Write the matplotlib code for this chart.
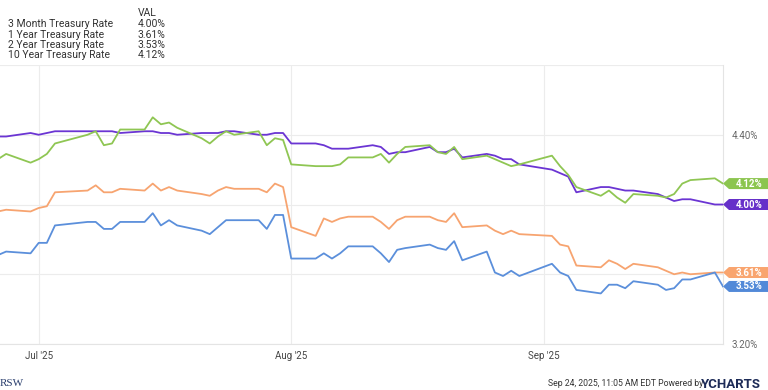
import matplotlib
matplotlib.use("Agg")
import matplotlib.pyplot as plt
import matplotlib.dates as mdates
import matplotlib.transforms as mtransforms
from matplotlib.patches import Polygon
import pandas as pd

# business days shown on the chart
dates = pd.bdate_range("2025-06-26", "2025-09-23", freq="C",
                       holidays=["2025-07-04", "2025-09-01"])

three_month = [4.39, 4.39, 4.41,
               4.40, 4.41, 4.42, 4.42, 4.42, 4.42, 4.42, 4.41, 4.42, 4.42, 4.41, 4.41, 4.40,
               4.41, 4.41, 4.41, 4.42, 4.42, 4.40, 4.40, 4.41, 4.41,
               4.35, 4.35, 4.34, 4.32, 4.32, 4.32, 4.34, 4.33, 4.29, 4.30, 4.30, 4.33, 4.30,
               4.30, 4.32, 4.27, 4.29, 4.28, 4.26, 4.26, 4.23,
               4.20, 4.18, 4.16, 4.07, 4.10, 4.10, 4.09, 4.08, 4.08, 4.06, 4.04, 4.02, 4.03,
               4.03, 4.00, 4.00]
one_year = [3.96, 3.97, 3.96,
            3.98, 3.99, 4.07, 4.08, 4.11, 4.07, 4.07, 4.09, 4.08, 4.12, 4.08, 4.10, 4.08,
            4.06, 4.05, 4.08, 4.10, 4.09, 4.09, 4.07, 4.12, 4.10,
            3.87, 3.82, 3.92, 3.90, 3.92, 3.93, 3.93, 3.90, 3.86, 3.91, 3.93, 3.93, 3.91,
            3.90, 3.95, 3.87, 3.88, 3.85, 3.83, 3.85, 3.83,
            3.82, 3.77, 3.76, 3.65, 3.64, 3.68, 3.66, 3.63, 3.66, 3.64, 3.62, 3.60, 3.61,
            3.60, 3.61, 3.61]
two_year = [3.71, 3.73, 3.72,
            3.78, 3.78, 3.88, 3.90, 3.90, 3.86, 3.86, 3.90, 3.90, 3.95, 3.88, 3.91, 3.88,
            3.85, 3.83, 3.87, 3.91, 3.91, 3.91, 3.86, 3.94, 3.94,
            3.69, 3.69, 3.72, 3.69, 3.72, 3.76, 3.76, 3.72, 3.67, 3.74, 3.75, 3.77, 3.75,
            3.74, 3.79, 3.68, 3.73, 3.61, 3.59, 3.62, 3.59,
            3.66, 3.61, 3.59, 3.51, 3.49, 3.54, 3.54, 3.52, 3.56, 3.54, 3.51, 3.52, 3.57,
            3.57, 3.61, 3.53]
ten_year = [4.26, 4.29, 4.24,
            4.26, 4.29, 4.35, 4.40, 4.42, 4.34, 4.35, 4.43, 4.43, 4.50, 4.46, 4.47, 4.44,
            4.38, 4.35, 4.39, 4.42, 4.40, 4.42, 4.34, 4.38, 4.37,
            4.23, 4.22, 4.22, 4.22, 4.23, 4.27, 4.27, 4.29, 4.24, 4.29, 4.33, 4.34, 4.30,
            4.29, 4.33, 4.26, 4.28, 4.26, 4.24, 4.22, 4.23,
            4.28, 4.22, 4.17, 4.10, 4.05, 4.08, 4.04, 4.01, 4.06, 4.05, 4.04, 4.06, 4.12,
            4.14, 4.15, 4.12]

names = ["3 Month Treasury Rate", "1 Year Treasury Rate",
         "2 Year Treasury Rate", "10 Year Treasury Rate"]
series = [three_month, one_year, two_year, ten_year]
colors = ["#6b35d3", "#f7a470", "#5b8fdb", "#8fc653"]
tag_colors = ["#6630c9", "#f9a56f", "#5289d8", "#8cc54f"]

plt.rcParams["font.family"] = ["Roboto", "DejaVu Sans"]

fig = plt.figure(figsize=(7.68, 3.9), dpi=100)
ax = fig.add_axes([0, 46 / 390, 723 / 768, 279 / 390])

for vals, c in zip(series, colors):
    ax.plot(dates, vals, color=c, lw=1.3, zorder=3)

ax.set_xlim(pd.Timestamp("2025-06-26 06:00"), pd.Timestamp("2025-09-23"))
ax.set_ylim(3.2, 4.8)
# 4.00% and 3.60% sit behind the value tags in the original
ax.set_yticks([3.2, 3.6, 4.0, 4.4, 4.8])
ax.set_yticklabels(["3.20%", "", "", "4.40%", ""])
ax.yaxis.tick_right()
ax.xaxis.set_major_locator(mdates.MonthLocator())
ax.xaxis.set_major_formatter(mdates.DateFormatter("%b '%y"))
ax.tick_params(axis="y", length=0, pad=6, labelsize=7, labelcolor="#666666")
ax.tick_params(axis="x", length=0, pad=5, labelsize=7, labelcolor="#444444")
ax.grid(True, color="#ececec", lw=0.8)
for s in ["top", "left"]:
    ax.spines[s].set_visible(False)
for s in ["right", "bottom"]:
    ax.spines[s].set_color("#e4e4e4")
    ax.spines[s].set_linewidth(0.8)

# value tags on the right edge
trans = mtransforms.blended_transform_factory(ax.transAxes, ax.transData)
hh = 5.5 / 174.4
tip = 6 / 723
for vals, c in zip(series, tag_colors):
    y = vals[-1]
    poly = Polygon([(1.0, y), (1.0 + tip, y + hh), (1.08, y + hh),
                    (1.08, y - hh), (1.0 + tip, y - hh)],
                   closed=True, transform=trans, facecolor=c, edgecolor="none",
                   clip_on=False, zorder=5)
    ax.add_patch(poly)
    ax.text(1.036, y, f"{y:.2f}%", transform=trans, color="white",
            fontsize=7, fontweight="bold", ha="center", va="center",
            zorder=6, clip_on=False)

# legend table top-left
fig.text(138 / 768, 1 - 12.7 / 390, "VAL", fontsize=7.5, color="#333333",
         va="center", ha="left")
row_y = [24, 34.5, 44.7, 55.3]
for name, vals, ry in zip(names, series, row_y):
    fig.text(8 / 768, 1 - ry / 390, name, fontsize=7.5, color="#333333",
             va="center", ha="left")
    fig.text(138 / 768, 1 - ry / 390, f"{vals[-1]:.2f}%", fontsize=7.5,
             color="#333333", va="center", ha="left")

# footer
fig.text(548 / 768, 1 - 384 / 390, "Sep 24, 2025, 11:05 AM EDT Powered by",
         fontsize=6.2, color="#333333", va="center", ha="left")
fig.text(701 / 768, 1 - 384 / 390, "YCHARTS", fontsize=9.5, fontweight="bold",
         color="#1d2b57", va="center", ha="left")
fig.text(0.0, 1 - 383 / 390, "RSW", fontsize=8, color="#2b3f6e",
         family="Liberation Serif", va="center", ha="left")

fig.savefig("out.png", dpi=100)
